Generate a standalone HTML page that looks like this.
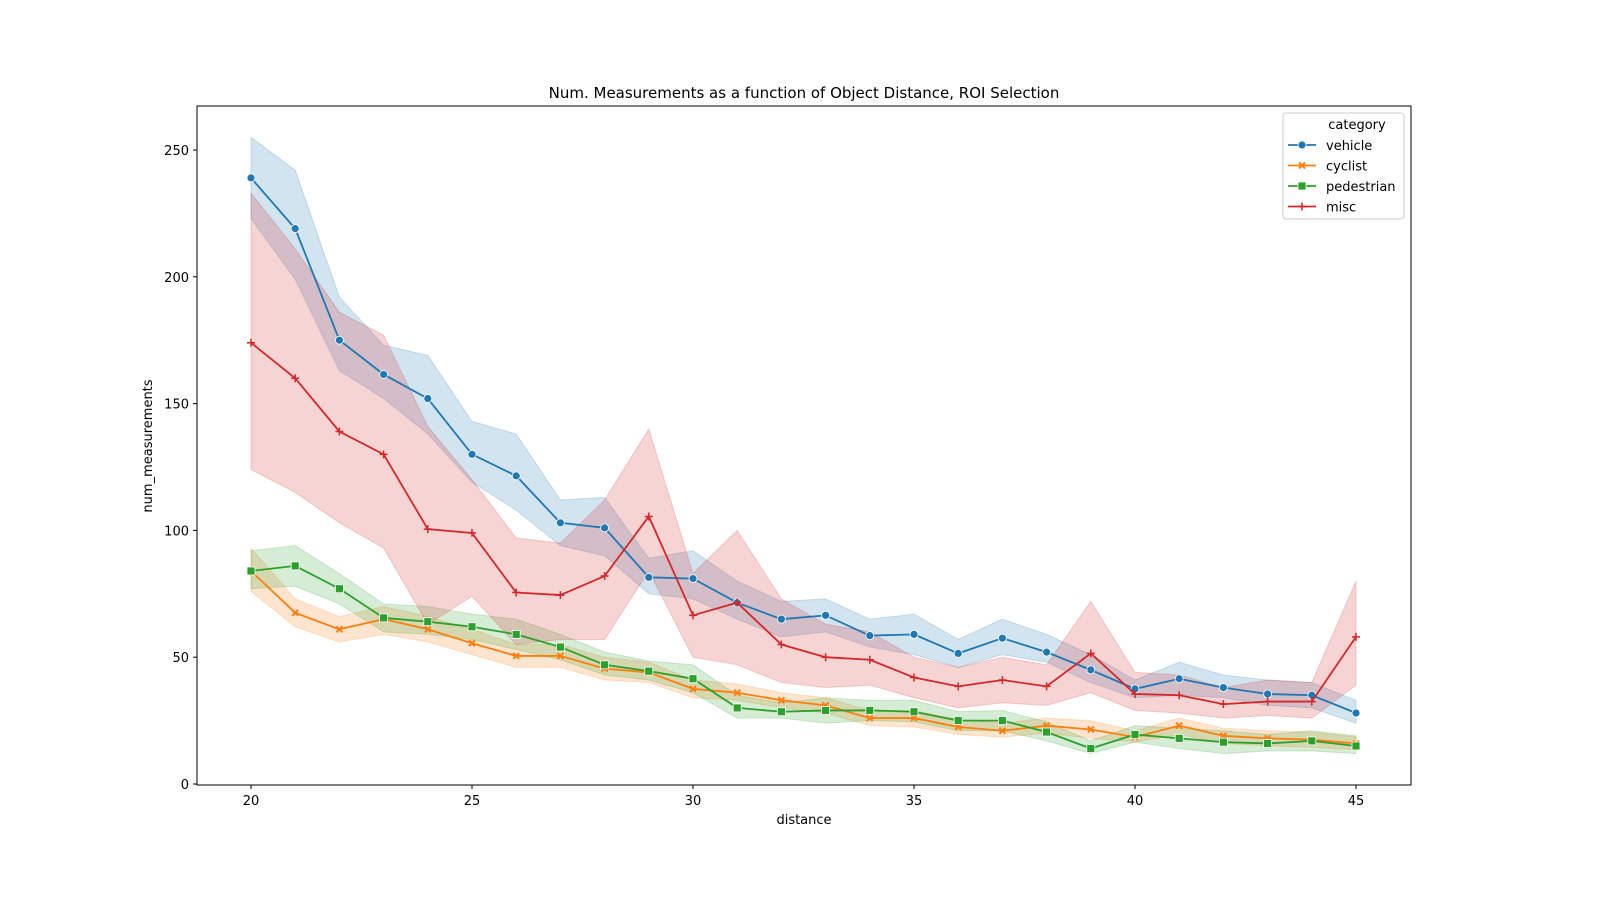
<!DOCTYPE html>
<html><head><meta charset="utf-8"><style>
body{margin:0;background:#fff;}
svg{display:block;font-family:"DejaVu Sans","Liberation Sans",sans-serif;}
</style></head><body>
<svg id="chart" width="1600" height="900"></svg>
<script>
const distances=[20,21,22,23,24,25,26,27,28,29,30,31,32,33,34,35,36,37,38,39,40,41,42,43,44,45];
const vehicleMean=[239,219,175,161.5,152,130,121.5,103,101,81.5,81,71.5,65,66.5,58.5,59,51.5,57.5,52,45,37.5,41.5,38,35.5,35,28];
const vehicleLow=[223,199,163,152,138,119,108,94,90,75,73,65,58,60,54,51,46,51,48,40,34,35,34,31,30,24];
const vehicleHigh=[255,242,192,173,169,143,138,112,113,89,92,80,72,73,65,67,57,65,59,51,41,48,43,41,40,33];
const miscMean=[174,160,139,130,100.5,99,75.5,74.5,82,105.5,66.5,71.5,55,50,49,42,38.5,41,38.5,51.5,35.5,35,31.5,32.5,32.5,58];
const miscLow=[124,115,103,93,63,74,55,57,57,84,50,47,40,38,39,34,30,32,31,36,29,28,26,27,26,39];
const miscHigh=[233,211,186,177,141,120,97,95,112,140,83,100,73,63,60,50,46,50,47,72,44,43,38,41,40,80];
const cyclistMean=[84,67.5,61,65,61,55.5,50.5,50.5,45.5,44,37.5,36,33,31,26,26,22.5,21,23,21.5,18.5,23,19,18,17.5,16];
const cyclistLow=[76,62,56,59,56,51,46,46,41,40,34,33,30,28,23,22.5,19.5,18.5,20,18,16.5,19.5,16,15,14.5,13.5];
const cyclistHigh=[93,73,66,70,66,61,55,55,50,48,41,39.5,36,34,29,29,25.5,24,26,25,21,26,22,21,20.5,18.5];
const pedMean=[84,86,77,65.5,64,62,59,54,47,44.5,41.5,30,28.5,29,29,28.5,25,25,20.5,14,19.5,18,16.5,16,17,15];
const pedLow=[77,78,71,60,59,57,53,49,43,41,36,26,26,24,25,24.5,21,21,17,12,16.5,14,12,13,13,12];
const pedHigh=[92,94,83,71,70,67,65,59,52,48.5,47,35,32,34,33,33,28.5,29,24.5,17,23,22,21,19.5,21,19];
const xTicks=[20,25,30,35,40,45];
const yTicks=[0,50,100,150,200,250];

const NS="http://www.w3.org/2000/svg";
const svg=document.getElementById('chart');
const X=v=>251+(v-20)*(1356-251)/25;
const Y=v=>784-v*(784-150)/250;
function mk(t,a,p){const e=document.createElementNS(NS,t);for(const k in a)e.setAttribute(k,a[k]);(p||svg).appendChild(e);return e;}

const ax=mk('rect',{x:197,y:106,width:1214,height:679,fill:'none',stroke:'#000','stroke-width':1});



const t=mk('text',{x:804,y:98,'text-anchor':'middle','font-size':15});t.textContent='Num. Measurements as a function of Object Distance, ROI Selection';



xTicks.forEach(v=>{
  const l=mk('line',{x1:X(v),x2:X(v),y1:785,y2:789,stroke:'#000'});
  
  
  const tx=mk('text',{x:X(v),y:805,'text-anchor':'middle','font-size':13});tx.textContent=v;
  
  
});
yTicks.forEach(v=>{
  const l=mk('line',{x1:193,x2:197,y1:Y(v),y2:Y(v),stroke:'#000'});
  
  
  const tx=mk('text',{x:189,y:Y(v)+5,'text-anchor':'end','font-size':13});tx.textContent=v;
  
  
});
const xl=mk('text',{x:804,y:824,'text-anchor':'middle','font-size':13});xl.textContent='distance';


const yl=mk('text',{x:152,y:446,'text-anchor':'middle','font-size':13,transform:'rotate(-90 152 446)'});yl.textContent='num_measurements';



const series=[
 {name:'vehicle',c:'#1f77b4',m:vehicleMean,lo:vehicleLow,hi:vehicleHigh,mk:'circle'},
 {name:'cyclist',c:'#ff7f0e',m:cyclistMean,lo:cyclistLow,hi:cyclistHigh,mk:'x'},
 {name:'pedestrian',c:'#2ca02c',m:pedMean,lo:pedLow,hi:pedHigh,mk:'square'},
 {name:'misc',c:'#d62728',m:miscMean,lo:miscLow,hi:miscHigh,mk:'plus'}
];
function marker(type,x,y,c,g){
  let e;
  if(type==='circle')e=mk('circle',{cx:x,cy:y,r:4,fill:c,stroke:'#fff','stroke-width':0.8},g);
  else if(type==='square')e=mk('rect',{x:x-4,y:y-4,width:8,height:8,fill:c,stroke:'#fff','stroke-width':0.8},g);
  else if(type==='x')e=mk('path',{d:`M${x-3},${y-3}L${x+3},${y+3}M${x+3},${y-3}L${x-3},${y+3}`,stroke:c,'stroke-width':2},g);
  else e=mk('path',{d:`M${x-4},${y}L${x+4},${y}M${x},${y-4}L${x},${y+4}`,stroke:c,'stroke-width':1.5},g);
  return e;
}
series.forEach(s=>{
  let d='';
  distances.forEach((v,i)=>{d+=(i?'L':'M')+X(v)+','+Y(s.hi[i]);});
  for(let i=distances.length-1;i>=0;i--)d+='L'+X(distances[i])+','+Y(s.lo[i]);
  const b=mk('path',{d:d+'Z',fill:s.c,'fill-opacity':0.2,stroke:s.c,'stroke-opacity':0.2});
  
  
});
series.forEach(s=>{
  const g=mk('g',{});
  
  
  const pts=distances.map((v,i)=>X(v)+','+Y(s.m[i])).join(' ');
  const l=mk('polyline',{points:pts,fill:'none',stroke:s.c,'stroke-width':1.8},g);
  
  
  distances.forEach((v,i)=>{
    const e=marker(s.mk,X(v),Y(s.m[i]),s.c,g);
    
    
  });
});
const lg=mk('g',{});


mk('rect',{x:1283,y:113,width:121,height:106,rx:3,fill:'#fff','fill-opacity':0.8,stroke:'#ccc'},lg);
const lt=mk('text',{x:1357,y:129,'text-anchor':'middle','font-size':13},lg);lt.textContent='category';


series.forEach((s,i)=>{
  const y=145+i*20.5;
  const e=mk('g',{},lg);
  
  
  mk('line',{x1:1288,x2:1316,y1:y,y2:y,stroke:s.c,'stroke-width':1.8},e);
  marker(s.mk,1302,y,s.c,e);
  const tx=mk('text',{x:1326,y:y+5,'font-size':13},e);tx.textContent=s.name;
});
</script>
</body></html>
